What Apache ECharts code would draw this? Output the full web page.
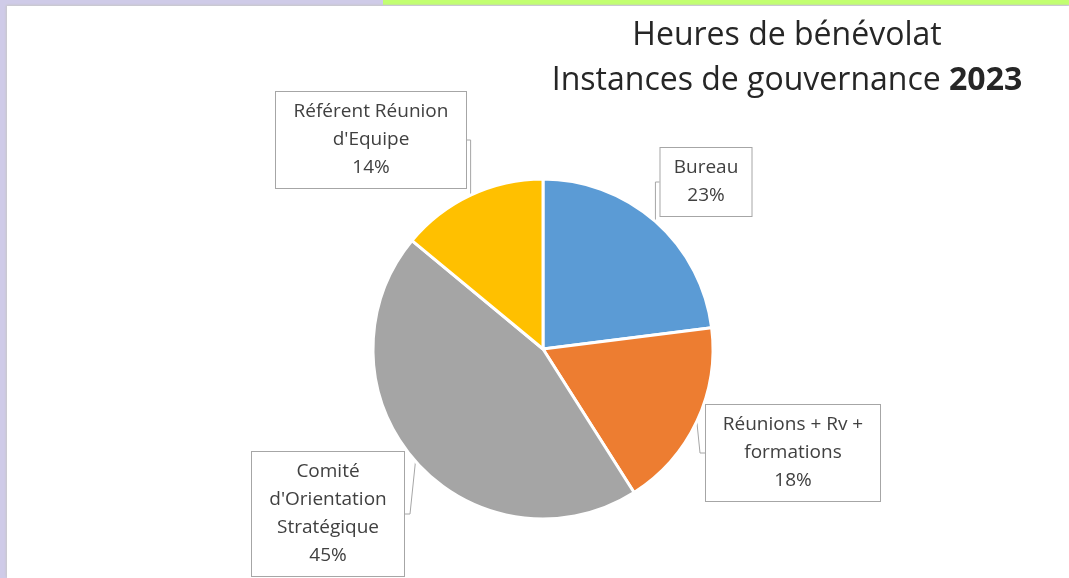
<!DOCTYPE html>
<html>
<head>
<meta charset="utf-8">
<script src="https://cdn.jsdelivr.net/npm/echarts@6/dist/echarts.min.js"></script>
<style>
  html, body { margin: 0; padding: 0; width: 1069px; height: 578px; overflow: hidden; background: #cfcbe8; }
  #strip { position: absolute; left: 383px; top: 0; width: 686px; height: 5px; background: #c2ff70; }
  #sheet { position: absolute; left: 7px; top: 6px; right: 0; bottom: 0; background: #fff; box-shadow: -1px -1px 2px #c8c8c8; }
  #chart { position: absolute; left: 0; top: 0; width: 1069px; height: 578px; }
</style>
</head>
<body>
<div id="strip"></div>
<div id="sheet"></div>
<div id="chart"></div>
<script>
// data (percent of volunteer hours)
const categories = ['Bureau', 'Réunions + Rv +\nformations', 'Comité\nd\'Orientation\nStratégique', 'Référent Réunion\nd\'Equipe'];
const values = [23, 18, 45, 14];
const colors = ['#5b9bd5', '#ed7d31', '#a5a5a5', '#ffc000'];

// label box centres and content widths (px)
const labelBoxes = [
  { x: 706, y: 182, w: 71 },
  { x: 793, y: 453, w: 154 },
  { x: 328, y: 514, w: 132 },
  { x: 371, y: 140, w: 170 }
];

const chart = echarts.init(document.getElementById('chart'), null, { renderer: 'canvas' });

const option = {
  backgroundColor: 'transparent',
  animation: false,
  title: {
    text: 'Heures de bénévolat\nInstances de gouvernance {b|2023}',
    left: 782,
    top: 8,
    textAlign: 'center',
    textStyle: {
      fontFamily: 'Open Sans',
      fontSize: 32,
      fontWeight: 'normal',
      color: '#262626',
      lineHeight: 45,
      rich: {
        b: { fontFamily: 'Open Sans', fontSize: 32, fontWeight: 'bold', color: '#262626', lineHeight: 45 }
      }
    }
  },
  series: [
    {
      type: 'pie',
      center: [543, 349],
      radius: 170,
      startAngle: 90,
      clockwise: true,
      itemStyle: { borderColor: '#fff', borderWidth: 3 },
      label: {
        show: true,
        position: 'outside',
        formatter: (p) => p.name + '\n' + p.value + '%',
        fontFamily: 'Open Sans',
        fontSize: 19,
        lineHeight: 28,
        color: '#404040',
        align: 'center',
        backgroundColor: '#fff',
        borderColor: '#a6a6a6',
        borderWidth: 1,
        padding: [6, 10, 6, 10]
      },
      labelLine: {
        show: true,
        length: 5,
        length2: 5,
        lineStyle: { color: '#a6a6a6', width: 1 }
      },
      labelLayout: (params) => {
        const b = labelBoxes[params.dataIndex];
        return { x: b.x, y: b.y, align: 'center', verticalAlign: 'middle' };
      },
      data: categories.map((name, i) => ({
        name: name,
        value: values[i],
        itemStyle: { color: colors[i] },
        label: { width: labelBoxes[i].w }
      }))
    }
  ]
};

chart.setOption(option);
</script>
</body>
</html>
